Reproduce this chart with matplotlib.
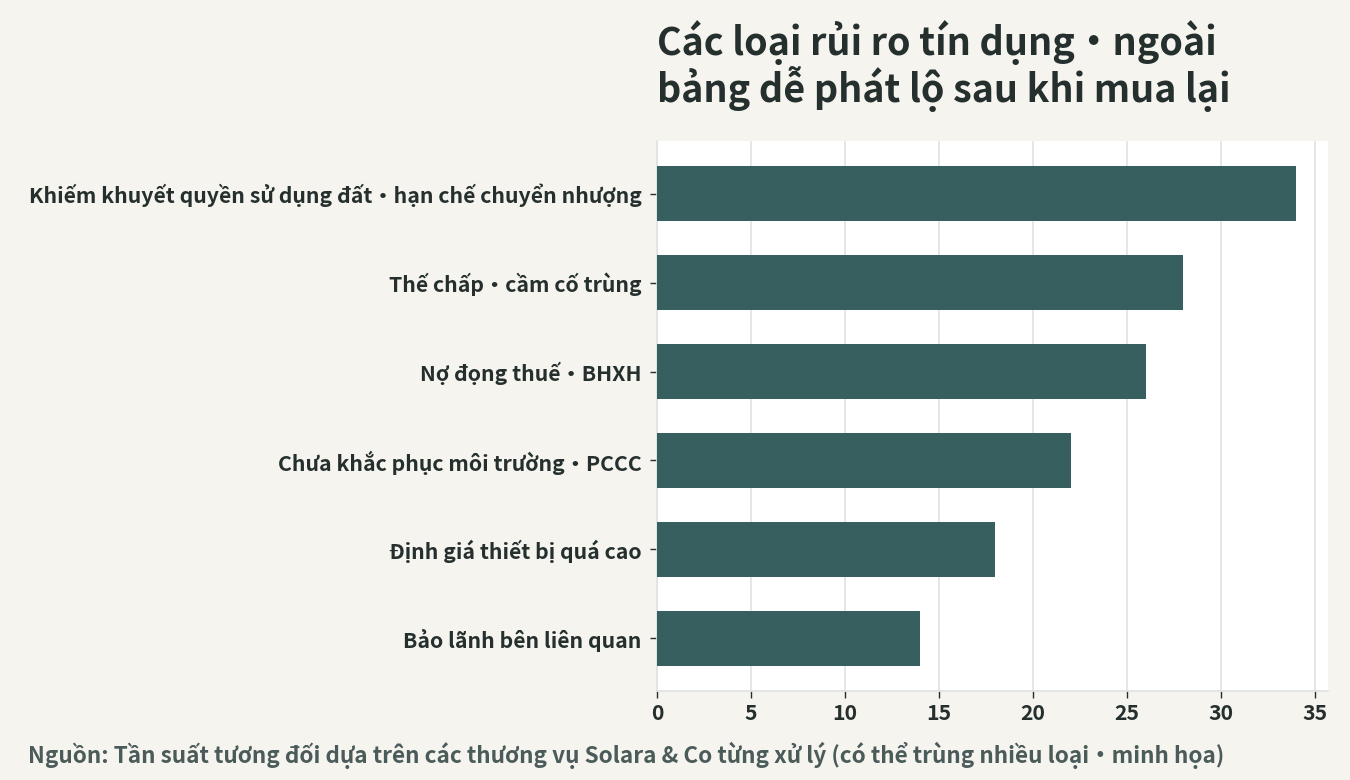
import matplotlib
matplotlib.use("Agg")
import matplotlib.pyplot as plt

# ===== data =====
labels = [
    "Khiếm khuyết quyền sử dụng đất・hạn chế chuyển nhượng",
    "Thế chấp・cầm cố trùng",
    "Nợ đọng thuế・BHXH",
    "Chưa khắc phục môi trường・PCCC",
    "Định giá thiết bị quá cao",
    "Bảo lãnh bên liên quan",
]
values = [34, 28, 26, 22, 18, 14]

title = "Các loại rủi ro tín dụng・ngoài\nbảng dễ phát lộ sau khi mua lại"
source = "Nguồn: Tần suất tương đối dựa trên các thương vụ Solara & Co từng xử lý (có thể trùng nhiều loại・minh họa)"

# ===== style =====
plt.rcParams["font.family"] = ["Noto Sans CJK JP", "DejaVu Sans"]
bg = "#f5f4ef"
bar_color = "#375f5f"
text_color = "#25302e"
grid_color = "#dfe3e1"

fig = plt.figure(figsize=(13.5, 7.8), dpi=100, facecolor=bg)
ax = fig.add_axes([657 / 1350, 1 - 691 / 780, (1328 - 657) / 1350, (691 - 141) / 780])
ax.set_facecolor("white")

y = list(range(len(labels)))
ax.barh(y, values, height=0.62, color=bar_color, zorder=3)
ax.invert_yaxis()
ax.set_yticks(y)
ax.set_yticklabels(labels)
ax.set_xlim(0, max(values) * 1.05)
ax.set_xticks([0, 5, 10, 15, 20, 25, 30, 35])

ax.grid(axis="x", color=grid_color, linewidth=1.2, zorder=0)
ax.grid(axis="y", visible=False)
for side in ["top", "right"]:
    ax.spines[side].set_visible(False)
for side in ["left", "bottom"]:
    ax.spines[side].set_color(grid_color)
    ax.spines[side].set_linewidth(1.2)

ax.tick_params(axis="both", colors=text_color, labelsize=15.3, length=5, width=1)
ax.tick_params(axis="y", color=text_color, length=5, pad=6)
for t in ax.get_xticklabels() + ax.get_yticklabels():
    t.set_fontweight("bold")
    t.set_color(text_color)

ax.set_title(title, loc="left", fontsize=27.2, fontweight="bold", color=text_color,
             pad=28, linespacing=1.02)

fig.text(28 / 1350, 1 - 755 / 780, source, fontsize=16.2, fontweight="bold",
         color="#4a5b5a", va="center", ha="left")

fig.savefig("out.png", dpi=100, facecolor=bg)
